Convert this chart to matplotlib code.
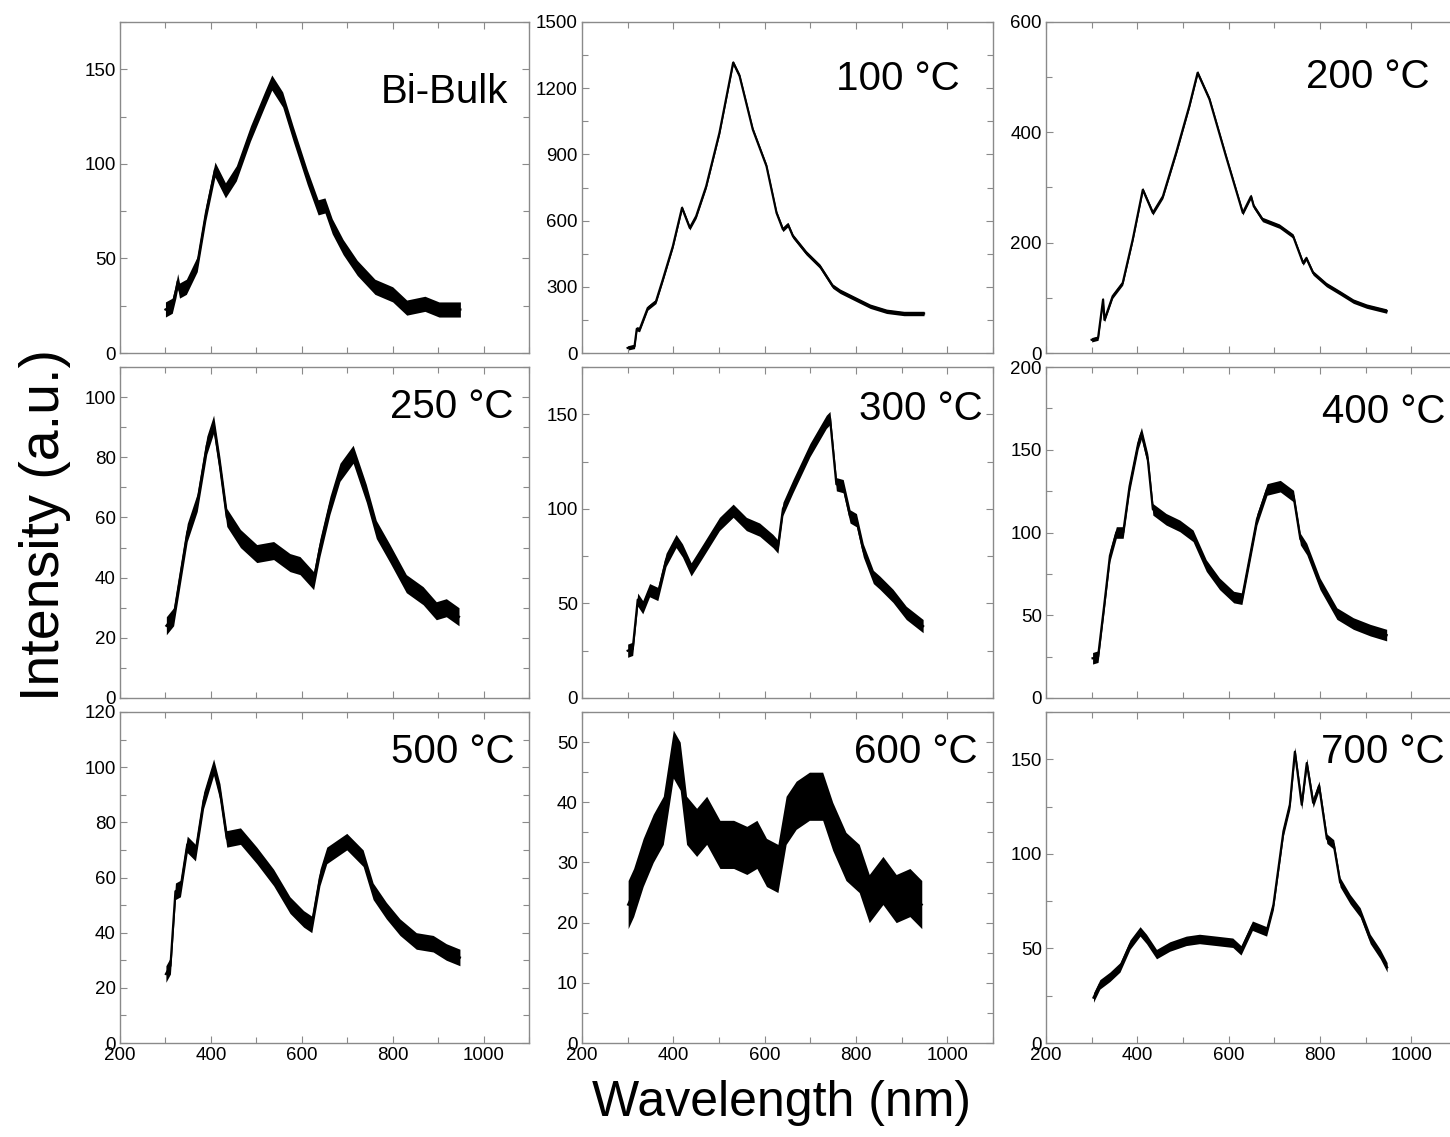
import matplotlib
matplotlib.use("Agg")
import matplotlib.pyplot as plt
from matplotlib.ticker import MultipleLocator
import numpy as np

plt.rcParams['font.family'] = ['Liberation Sans', 'DejaVu Sans']

# ---------------- data ----------------
labels = ["Bi-Bulk", "100 °C", "200 °C", "250 °C", "300 °C", "400 °C", "500 °C", "600 °C", "700 °C"]

wl_bulk = [300, 315, 323, 327, 331, 346, 370, 389, 409, 432, 456, 487, 518, 534, 558, 581, 612, 636, 651, 667, 691, 722, 761, 800, 831, 871, 902, 949]
int_bulk = [23, 25, 33, 38, 33, 35, 47, 74, 97, 86, 95, 116, 134, 143, 134, 116, 93, 77, 78, 67, 56, 45, 35, 31, 24, 26, 23, 23]

wl_100 = [300, 315, 320, 326, 344, 362, 377, 399, 419, 436, 450, 472, 501, 531, 545, 574, 604, 626, 640, 651, 662, 691, 721, 749, 765, 794, 831, 867, 905, 949]
int_100 = [23, 30, 110, 106, 204, 234, 333, 484, 658, 567, 620, 756, 998, 1316, 1256, 1013, 847, 635, 560, 582, 529, 454, 393, 303, 280, 250, 212, 189, 179, 179]

wl_200 = [300, 314, 325, 328, 346, 368, 390, 412, 434, 456, 485, 514, 532, 558, 594, 631, 649, 655, 674, 711, 741, 763, 770, 785, 814, 844, 873, 902, 946]
int_200 = [24, 27, 97, 60, 103, 127, 206, 296, 254, 284, 363, 448, 508, 460, 357, 254, 284, 266, 242, 230, 212, 163, 172, 145, 124, 109, 94, 85, 76]

wl_250 = [302, 318, 333, 348, 370, 391, 406, 420, 435, 465, 501, 538, 574, 596, 626, 640, 662, 684, 713, 742, 764, 794, 830, 867, 896, 918, 946]
int_250 = [24, 27, 41, 55, 65, 84, 91, 77, 60, 53, 48, 49, 45, 44, 39, 50, 64, 75, 81, 68, 56, 48, 38, 34, 29, 30, 27]

wl_300 = [300, 311, 322, 333, 348, 366, 384, 406, 420, 439, 465, 501, 531, 560, 589, 618, 629, 640, 662, 699, 735, 743, 757, 772, 787, 801, 816, 838, 852, 881, 910, 947]
int_300 = [25, 26, 52, 48, 57, 55, 73, 83, 78, 68, 78, 92, 99, 92, 89, 83, 80, 100, 112, 131, 146, 148, 113, 112, 96, 94, 78, 64, 61, 54, 45, 38]

wl_400 = [302, 314, 327, 340, 354, 369, 383, 402, 409, 423, 434, 463, 493, 522, 551, 580, 611, 629, 640, 662, 684, 713, 742, 757, 771, 800, 837, 873, 910, 946]
int_400 = [24, 25, 55, 86, 100, 100, 128, 154, 160, 144, 114, 108, 104, 98, 80, 69, 61, 60, 76, 108, 126, 128, 122, 96, 90, 69, 51, 45, 41, 38]

wl_500 = [301, 311, 322, 333, 348, 366, 384, 406, 420, 435, 465, 501, 538, 574, 604, 622, 640, 655, 699, 735, 757, 786, 816, 852, 889, 918, 948]
int_500 = [25, 28, 55, 56, 72, 69, 88, 100, 91, 74, 75, 68, 60, 50, 45, 43, 60, 68, 73, 67, 55, 48, 42, 37, 36, 33, 31]

wl_600 = [301, 313, 334, 356, 378, 400, 415, 429, 451, 473, 502, 532, 561, 583, 604, 629, 647, 669, 698, 727, 749, 778, 807, 829, 859, 888, 918, 944]
int_600 = [23, 25, 30, 34, 37, 48, 46, 37, 35, 37, 33, 33, 32, 33, 30, 29, 37, 39.5, 41, 41, 36, 31, 29, 24, 27, 24, 25, 23]

wl_700 = [304, 318, 340, 362, 384, 406, 420, 442, 471, 507, 536, 573, 609, 627, 652, 683, 698, 720, 734, 745, 760, 771, 785, 798, 815, 830, 844, 866, 888, 910, 932, 947]
int_700 = [24, 31, 35, 40, 52, 59, 55, 47, 51, 54, 55, 54, 53, 49, 62, 59, 73, 112, 126, 154, 126, 148, 127, 136, 108, 105, 85, 76, 69, 55, 47, 40]

# half-width of the noise band seen around each trace (intensity units)
noise = [4, 10, 4, 3, 3.5, 3.5, 3, 4, 2.5]

y_max = [175, 1500, 600, 110, 175, 200, 120, 55, 175]
y_major = [50, 300, 200, 20, 50, 50, 20, 10, 50]

x_ticks = [200, 400, 600, 800, 1000]

series = [(wl_bulk, int_bulk), (wl_100, int_100), (wl_200, int_200),
          (wl_250, int_250), (wl_300, int_300), (wl_400, int_400),
          (wl_500, int_500), (wl_600, int_600), (wl_700, int_700)]

# ---------------- layout ----------------
W, H = 1450, 1137
fig = plt.figure(figsize=(W / 100, H / 100), dpi=100)

col_x = [120, 582, 1046]
col_w = [409, 411, 411]
row_top = [22, 367, 712]
row_h = 331

# label right edge / top (pixels)
label_pos = [(508, 73), (960, 60), (1430, 58),
             (513, 388), (983, 390), (1445, 393),
             (515, 733), (978, 733), (1445, 733)]

spine_col = "#8a8a8a"

for i in range(9):
    r, c = divmod(i, 3)
    x0, w, y0 = col_x[c], col_w[c], row_top[r]
    ax = fig.add_axes([x0 / W, 1 - (y0 + row_h) / H, w / W, row_h / H])
    wl = np.array(series[i][0], dtype=float)
    iv = np.array(series[i][1], dtype=float)
    ax.fill_between(wl, iv - noise[i], iv + noise[i], color="black", lw=0)
    ax.plot(wl, iv, color="black", lw=1.6)
    ax.set_xlim(200, 1100)
    ax.set_ylim(0, y_max[i])
    ax.set_xticks(x_ticks)
    ax.xaxis.set_minor_locator(MultipleLocator(100))
    ax.yaxis.set_major_locator(MultipleLocator(y_major[i]))
    ax.yaxis.set_minor_locator(MultipleLocator(y_major[i] / 2))
    for s in ax.spines.values():
        s.set_color(spine_col)
        s.set_linewidth(1.0)
    ax.tick_params(which="both", direction="in", top=True, right=True,
                   color=spine_col, width=0.8, labelsize=13.5, pad=3)
    ax.tick_params(which="major", length=5)
    ax.tick_params(which="minor", length=4)
    if r < 2:
        ax.tick_params(axis="x", labelbottom=False)
    lx, ly = label_pos[i]
    ax.text((lx - x0) / w, 1 - (ly - y0) / row_h, labels[i], transform=ax.transAxes,
            ha="right", va="top", fontsize=29)

fig.text(45 / W, 1 - 525 / H, "Intensity (a.u.)", rotation=90, ha="center", va="center", fontsize=40)
fig.text(782 / W, 1 - 1103 / H, "Wavelength (nm)", ha="center", va="center", fontsize=36)

fig.savefig("out.png", dpi=100)
